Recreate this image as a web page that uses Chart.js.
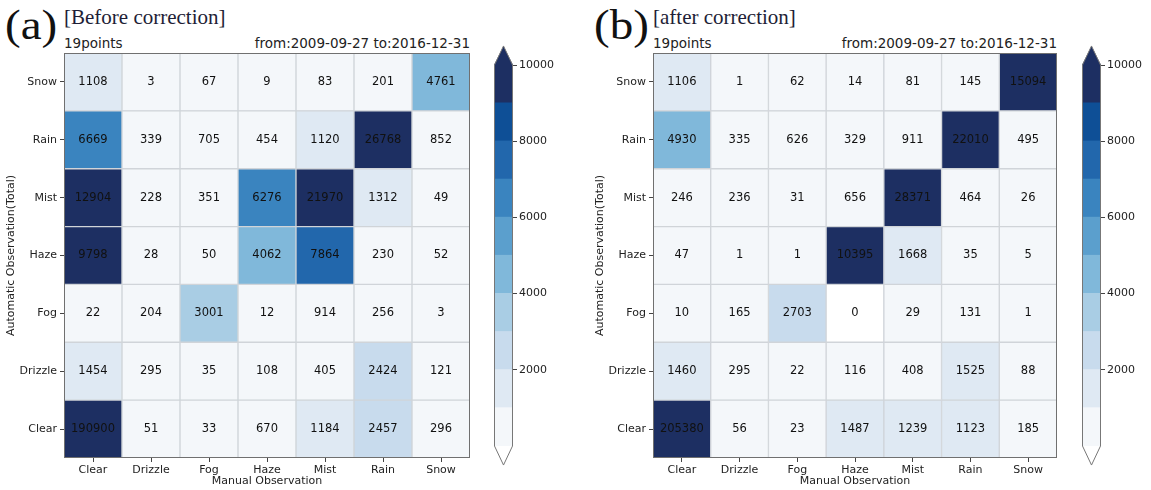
<!DOCTYPE html>
<html>
<head>
<title>Weather confusion matrices</title>
<script src="https://cdn.jsdelivr.net/npm/chart.js"></script>
<style>
    body { margin: 0; background: #fff; width: 1151px; height: 490px; position: relative; overflow: hidden;
           font-family: 'DejaVu Sans', sans-serif; color: #222; }
    .box { position: absolute; }
    canvas { display: block; }
    .panel { font-family: 'Liberation Serif', serif; font-size: 42px; line-height: 1; color: #111;
             transform: scaleX(1.12); transform-origin: left top; }
    .head { font-family: 'Liberation Serif', serif; font-size: 21px; line-height: 1; color: #1e1e36; white-space: nowrap; }
    .info { font-size: 13.5px; line-height: 1; white-space: nowrap; }
</style>
</head>
<body>
    <div class="box panel" style="left:5px; top:4px;">(a)</div>
    <div class="box head" style="left:64px; top:7px;">[Before correction]</div>
    <div class="box info" style="left:64px; top:37px;">19points</div>
    <div class="box info" style="right:681px; top:37px;">from:2009-09-27 to:2016-12-31</div>

    <div class="box panel" style="left:594px; top:4px;">(b)</div>
    <div class="box head" style="left:653px; top:7px;">[after correction]</div>
    <div class="box info" style="left:653px; top:37px;">19points</div>
    <div class="box info" style="right:94px; top:37px;">from:2009-09-27 to:2016-12-31</div>

    <div class="box" style="left:0; top:0;"><canvas id="before" width="480" height="490"></canvas></div>
    <div class="box" style="left:480px; top:0;"><canvas id="beforeBar" width="100" height="490"></canvas></div>
    <div class="box" style="left:589px; top:0;"><canvas id="after" width="480" height="490"></canvas></div>
    <div class="box" style="left:1068px; top:0;"><canvas id="afterBar" width="83" height="490"></canvas></div>

<script>
// categories, same order on both axes (y goes bottom to top)
const weather = ['Clear', 'Drizzle', 'Fog', 'Haze', 'Mist', 'Rain', 'Snow'];

// rows as printed, top to bottom: Snow, Rain, Mist, Haze, Fog, Drizzle, Clear
const beforeCounts = [
    [1108, 3, 67, 9, 83, 201, 4761],
    [6669, 339, 705, 454, 1120, 26768, 852],
    [12904, 228, 351, 6276, 21970, 1312, 49],
    [9798, 28, 50, 4062, 7864, 230, 52],
    [22, 204, 3001, 12, 914, 256, 3],
    [1454, 295, 35, 108, 405, 2424, 121],
    [190900, 51, 33, 670, 1184, 2457, 296]
];
const afterCounts = [
    [1106, 1, 62, 14, 81, 145, 15094],
    [4930, 335, 626, 329, 911, 22010, 495],
    [246, 236, 31, 656, 28371, 464, 26],
    [47, 1, 1, 10395, 1668, 35, 5],
    [10, 165, 2703, 0, 29, 131, 1],
    [1460, 295, 22, 116, 408, 1525, 88],
    [205380, 56, 23, 1487, 1239, 1123, 185]
];

// discrete colour scale
const levelBounds = [0, 1000, 2000, 3000, 4000, 5000, 6000, 7000, 8000, 9000, 10000];
const levelColors = ['#f4f7fa', '#dfe9f3', '#c8dbed', '#a9cde4', '#80b8da',
                     '#5b9fcd', '#3a84bf', '#2267ac', '#0e4f96', '#1d2f62'];
const overColor = '#1d2f62';
const underColor = '#ffffff';
const cbarTicks = [2000, 4000, 6000, 8000, 10000];

Chart.defaults.font.family = "'DejaVu Sans', sans-serif";
Chart.defaults.font.size = 11;
Chart.defaults.color = '#222';

function cellColor(v) {
    if (v <= levelBounds[0]) return underColor;
    for (let i = 0; i < levelColors.length; i++) {
        if (v < levelBounds[i + 1]) return levelColors[i];
    }
    return overColor;
}

// frame + numbers in each cell
const cellText = {
    id: 'cellText',
    afterDatasetsDraw(chart) {
        const ctx = chart.ctx;
        const a = chart.chartArea;
        ctx.save();
        ctx.strokeStyle = '#707070';
        ctx.lineWidth = 1;
        ctx.strokeRect(a.left + 0.5, a.top + 0.5, a.right - a.left - 1, a.bottom - a.top - 1);
        ctx.font = "11.5px 'DejaVu Sans'";
        ctx.fillStyle = '#111';
        ctx.textAlign = 'center';
        ctx.textBaseline = 'middle';
        chart.data.datasets.forEach((ds, i) => {
            chart.getDatasetMeta(i).data.forEach((bar, j) => {
                ctx.fillText(String(ds.counts[j]), bar.x, (bar.y + bar.base) / 2);
            });
        });
        ctx.restore();
    }
};

function matrixChart(id, counts, padRight) {
    const datasets = weather.map((name, i) => {
        const vals = counts[counts.length - 1 - i];
        return {
            label: name,
            data: vals.map(() => 1),
            counts: vals,
            backgroundColor: vals.map(cellColor),
            borderColor: '#d0d4d9',
            borderWidth: 1,
            borderSkipped: false,
            barPercentage: 1,
            categoryPercentage: 1
        };
    });
    const tickGrid = { offset: false, drawOnChartArea: false, tickLength: 4, color: '#444' };
    new Chart(document.getElementById(id), {
        type: 'bar',
        data: { labels: weather, datasets: datasets },
        options: {
            responsive: false,
            animation: false,
            events: [],
            layout: { padding: { top: 53, right: padRight, bottom: 0, left: 0 } },
            plugins: { legend: { display: false }, tooltip: { enabled: false } },
            scales: {
                x: {
                    stacked: true,
                    grid: tickGrid,
                    border: { display: false },
                    ticks: { padding: 2, maxRotation: 0 },
                    title: { display: true, text: 'Manual Observation', padding: { top: 0, bottom: 2 } },
                    afterFit: s => { s.height = 32; }
                },
                y: {
                    stacked: true,
                    min: 0,
                    max: weather.length,
                    afterBuildTicks: s => { s.ticks = weather.map((_, i) => ({ value: i + 0.5 })); },
                    ticks: { padding: 3, callback: v => weather[Math.floor(v)] },
                    grid: tickGrid,
                    border: { display: false },
                    title: { display: true, text: 'Automatic Observation(Total)', padding: { top: 5, bottom: 0 } },
                    afterFit: s => { s.width = 64; }
                }
            }
        },
        plugins: [cellText]
    });
}

// triangles for the extended ends of the colour bar, plus its outline
const cbarEnds = {
    id: 'cbarEnds',
    afterDatasetsDraw(chart) {
        const ctx = chart.ctx;
        const { left, right, top, bottom } = chart.chartArea;
        const ext = (bottom - top) * 0.05;
        const mid = (left + right) / 2;
        ctx.save();
        ctx.fillStyle = overColor;
        ctx.beginPath();
        ctx.moveTo(left, top); ctx.lineTo(mid, top - ext); ctx.lineTo(right, top);
        ctx.closePath(); ctx.fill();
        ctx.fillStyle = underColor;
        ctx.beginPath();
        ctx.moveTo(left, bottom); ctx.lineTo(mid, bottom + ext); ctx.lineTo(right, bottom);
        ctx.closePath(); ctx.fill();
        ctx.strokeStyle = '#777';
        ctx.lineWidth = 1;
        ctx.beginPath();
        ctx.moveTo(left + 0.5, top);
        ctx.lineTo(mid, top - ext);
        ctx.lineTo(right - 0.5, top);
        ctx.lineTo(right - 0.5, bottom);
        ctx.lineTo(mid, bottom + ext);
        ctx.lineTo(left + 0.5, bottom);
        ctx.closePath();
        ctx.stroke();
        ctx.restore();
    }
};

function colorBar(id, yWidth, padRight) {
    const datasets = levelColors.map((c, i) => ({
        data: [levelBounds[i + 1] - levelBounds[i]],
        backgroundColor: c,
        borderWidth: 0,
        inflateAmount: 0.6,
        barPercentage: 1,
        categoryPercentage: 1
    }));
    new Chart(document.getElementById(id), {
        type: 'bar',
        data: { labels: [''], datasets: datasets },
        options: {
            responsive: false,
            animation: false,
            events: [],
            layout: { padding: { top: 65, right: padRight, bottom: 44, left: 14 } },
            plugins: { legend: { display: false }, tooltip: { enabled: false } },
            scales: {
                x: { stacked: true, display: false },
                y: {
                    stacked: true,
                    position: 'right',
                    min: levelBounds[0],
                    max: levelBounds[levelBounds.length - 1],
                    afterBuildTicks: s => { s.ticks = cbarTicks.map(v => ({ value: v })); },
                    ticks: { padding: 2, callback: v => String(v) },
                    grid: { drawOnChartArea: false, tickLength: 4, color: '#444' },
                    border: { display: false },
                    afterFit: s => { s.width = yWidth; }
                }
            }
        },
        plugins: [cbarEnds]
    });
}

matrixChart('before', beforeCounts, 10);
colorBar('beforeBar', 60, 7);
matrixChart('after', afterCounts, 12);
colorBar('afterBar', 50, 0);
</script>
</body>
</html>
